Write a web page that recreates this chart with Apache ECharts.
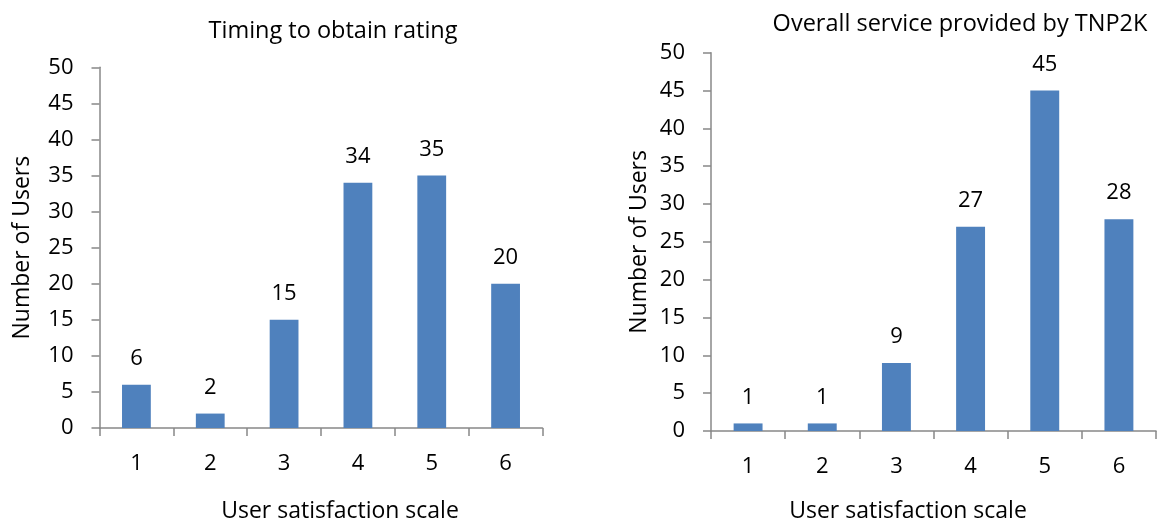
<!DOCTYPE html>
<html>
<head>
<meta charset="utf-8">
<script src="https://cdn.jsdelivr.net/npm/echarts@6/dist/echarts.min.js"></script>
<style>
  html, body { margin: 0; padding: 0; background: #ffffff; }
  #chart { width: 1157px; height: 528px; }
</style>
</head>
<body>
<div id="chart"></div>
<script>
// Satisfaction scale categories shared by both panels
const scaleCategories = ['1', '2', '3', '4', '5', '6'];

// Users per satisfaction score
const timingUsers = [6, 2, 15, 34, 35, 20];
const serviceUsers = [1, 1, 9, 27, 45, 28];

// Panel titles and axis names
const timingTitle = 'Timing to obtain rating';
const serviceTitle = 'Overall service provided by TNP2K';
const xAxisName = 'User satisfaction scale';
const yAxisName = 'Number of Users';

const FONT = '"Open Sans", "Liberation Sans", sans-serif';
const TEXT_COLOR = '#000000';
const AXIS_COLOR = '#888888';
const BAR_COLOR = '#4F81BD';

function valueAxis(gridIndex, nameGap) {
  return {
    type: 'value',
    gridIndex: gridIndex,
    min: 0,
    max: 50,
    interval: 5,
    name: yAxisName,
    nameLocation: 'middle',
    nameGap: nameGap,
    nameTextStyle: { fontFamily: FONT, fontSize: 23, color: TEXT_COLOR },
    axisLine: { show: true, lineStyle: { color: AXIS_COLOR, width: 1.5 } },
    axisTick: { show: true, length: 8, lineStyle: { color: AXIS_COLOR, width: 1.5 } },
    axisLabel: { fontFamily: FONT, fontSize: 22, color: TEXT_COLOR, margin: 26 },
    splitLine: { show: false }
  };
}

function categoryAxis(gridIndex, nameGap, namePadding) {
  return {
    type: 'category',
    gridIndex: gridIndex,
    data: scaleCategories,
    name: xAxisName,
    nameLocation: 'middle',
    nameGap: nameGap,
    nameTextStyle: { fontFamily: FONT, fontSize: 23, color: TEXT_COLOR, padding: namePadding },
    axisLine: { show: true, lineStyle: { color: AXIS_COLOR, width: 1.5 } },
    axisTick: { show: true, length: 8, alignWithLabel: false, lineStyle: { color: AXIS_COLOR, width: 1.5 } },
    axisLabel: { fontFamily: FONT, fontSize: 22, color: TEXT_COLOR, margin: 25 }
  };
}

function barSeries(axisIndex, values) {
  return {
    type: 'bar',
    xAxisIndex: axisIndex,
    yAxisIndex: axisIndex,
    data: values,
    barWidth: '39%',
    itemStyle: { color: BAR_COLOR },
    label: {
      show: true,
      position: 'top',
      distance: 15,
      fontFamily: FONT,
      fontSize: 22,
      color: TEXT_COLOR
    },
    emphasis: { disabled: true }
  };
}

const chart = echarts.init(document.getElementById('chart'), null, { renderer: 'canvas' });

chart.setOption({
  animation: false,
  backgroundColor: '#ffffff',
  title: [
    {
      text: timingTitle,
      left: 328,
      top: 14,
      textAlign: 'center',
      textStyle: { fontFamily: FONT, fontSize: 23.5, fontWeight: 'normal', color: TEXT_COLOR }
    },
    {
      text: serviceTitle,
      left: 955,
      top: 7,
      textAlign: 'center',
      textStyle: { fontFamily: FONT, fontSize: 23.5, fontWeight: 'normal', color: TEXT_COLOR }
    }
  ],
  grid: [
    { left: 99.5, width: 443, top: 67.3, height: 362, containLabel: false },
    { left: 711, width: 445, top: 52.7, height: 385.6, containLabel: false }
  ],
  xAxis: [
    categoryAxis(0, 72, [0, 0, 0, 38]),
    categoryAxis(1, 69, [0, 51, 0, 0])
  ],
  yAxis: [
    valueAxis(0, 66),
    valueAxis(1, 60)
  ],
  series: [
    barSeries(0, timingUsers),
    barSeries(1, serviceUsers)
  ]
});
</script>
</body>
</html>
